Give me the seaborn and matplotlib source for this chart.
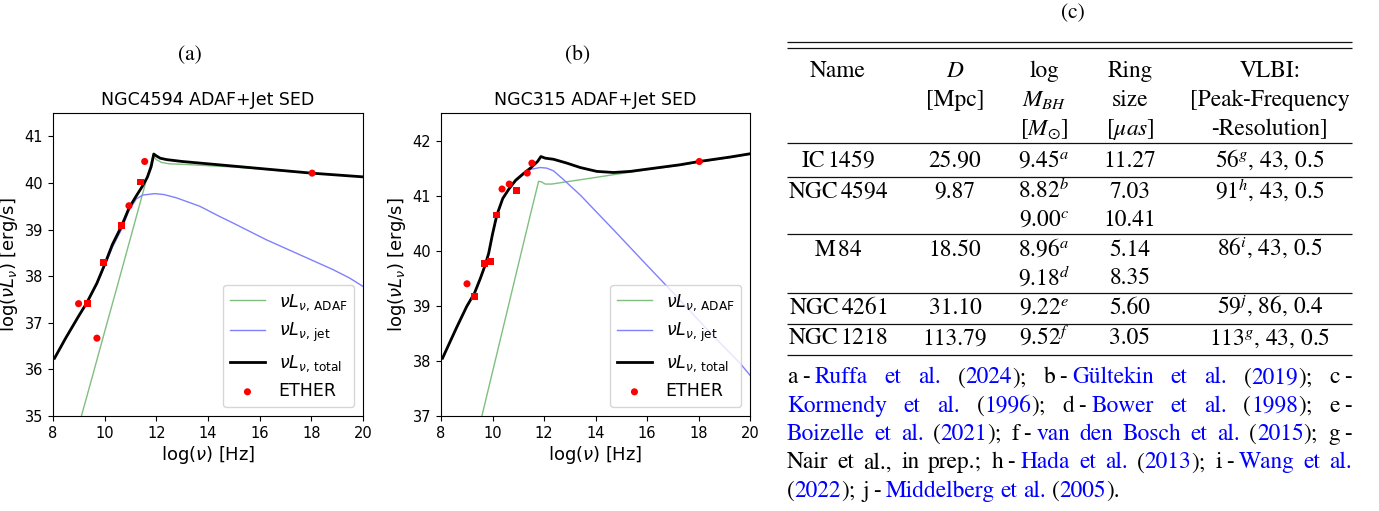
import matplotlib
matplotlib.use("Agg")
import matplotlib.pyplot as plt
import seaborn as sns
import pandas as pd

# ---------------- data: panel (a) NGC4594 ----------------
a_tot_nu = [8.06, 8.5, 9.0, 9.3, 9.7, 10.0, 10.3, 10.65, 10.95, 11.2, 11.45, 11.65, 11.8, 11.9, 12.0, 12.15, 12.4, 13.0, 14.0, 15.0, 16.0, 17.0, 18.0, 19.0, 20.0]
a_tot_L = [36.24, 36.68, 37.15, 37.42, 37.85, 38.25, 38.68, 39.07, 39.47, 39.70, 39.92, 40.12, 40.35, 40.62, 40.58, 40.53, 40.50, 40.46, 40.41, 40.36, 40.31, 40.26, 40.21, 40.17, 40.13]
a_adaf_nu = [9.0, 9.5, 10.0, 10.5, 11.0, 11.5, 11.87, 12.0, 12.2, 12.5, 13.0, 14.0, 15.0, 16.0, 17.0, 18.0, 19.0, 20.0]
a_adaf_L = [34.8, 35.8, 36.81, 37.81, 38.82, 39.83, 40.58, 40.50, 40.44, 40.41, 40.40, 40.37, 40.34, 40.30, 40.25, 40.21, 40.17, 40.13]
a_jet_nu = [8.06, 8.5, 9.0, 9.3, 9.7, 10.0, 10.3, 10.65, 10.95, 11.23, 11.48, 11.94, 12.3, 12.78, 13.68, 14.45, 14.97, 16.26, 17.55, 18.84, 19.48, 20.0]
a_jet_L = [36.23, 36.67, 37.14, 37.41, 37.83, 38.22, 38.62, 39.0, 39.42, 39.66, 39.74, 39.77, 39.75, 39.68, 39.5, 39.28, 39.14, 38.78, 38.46, 38.14, 37.96, 37.78]
a_ether_nu = [8.99, 9.70, 10.94, 11.55, 18.03]
a_ether_L = [37.41, 36.67, 39.51, 40.46, 40.21]
a_sq_nu = [9.32, 9.94, 10.65, 11.38]
a_sq_L = [37.42, 38.29, 39.08, 40.02]

# ---------------- data: panel (b) NGC315 ----------------
b_tot_nu = [8.06, 8.6, 9.0, 9.3, 9.53, 9.7, 9.85, 10.0, 10.17, 10.4, 10.65, 10.9, 11.2, 11.5, 11.75, 11.88, 12.05, 12.37, 12.89, 13.41, 14.05, 14.7, 15.35, 15.99, 17.28, 18.03, 19.22, 20.0]
b_tot_L = [38.05, 38.6, 38.99, 39.23, 39.5, 39.72, 39.95, 40.3, 40.65, 40.95, 41.13, 41.28, 41.4, 41.51, 41.62, 41.71, 41.68, 41.66, 41.59, 41.51, 41.44, 41.42, 41.44, 41.48, 41.56, 41.62, 41.70, 41.76]
b_adaf_nu = [9.5, 10.5, 11.0, 11.5, 11.79, 11.9, 12.05, 12.3, 13.0, 14.0, 14.7, 15.99, 17.28, 18.03, 19.22, 20.0]
b_adaf_L = [36.83, 38.77, 39.74, 40.71, 41.26, 41.25, 41.21, 41.21, 41.26, 41.33, 41.38, 41.47, 41.55, 41.61, 41.69, 41.75]
b_jet_nu = [8.06, 8.6, 9.0, 9.3, 9.53, 9.7, 9.85, 10.0, 10.17, 10.4, 10.65, 10.9, 11.2, 11.5, 11.85, 12.1, 12.37, 12.76, 13.41, 14.7, 15.99, 17.03, 18.58, 19.61, 20.0]
b_jet_L = [38.04, 38.59, 38.98, 39.22, 39.49, 39.71, 39.94, 40.29, 40.64, 40.94, 41.12, 41.26, 41.38, 41.48, 41.51, 41.5, 41.45, 41.29, 41.01, 40.38, 39.74, 39.23, 38.45, 37.96, 37.74]
b_ether_nu = [9.01, 10.37, 10.65, 11.35, 11.53, 18.03]
b_ether_L = [39.40, 41.12, 41.21, 41.41, 41.59, 41.62]
b_sq_nu = [9.31, 9.69, 9.91, 10.17, 10.94]
b_sq_L = [39.17, 39.77, 39.80, 40.65, 41.09]

x_ticks = [8, 10, 12, 14, 16, 18, 20]
a_yticks = [35, 36, 37, 38, 39, 40, 41]
b_yticks = [37, 38, 39, 40, 41, 42]

# ---------------- data: table (c) ----------------
TS = r"$\,$"  # thin space
MS = r"$\;$"  # medium space
hdr_name = ["Name", "", ""]
hdr_d = ["$D$", "[Mpc]", ""]
hdr_m = ["log", "$M_{BH}$", r"[$M_{\odot}$]"]
hdr_ring = ["Ring", "size", r"[$\mu as$]"]
hdr_vlbi = ["VLBI:", "[Peak-Frequency", "-Resolution]"]
col_name = ["IC" + TS + "1459", "NGC" + TS + "4594", "", "M" + TS + "84", "", "NGC" + TS + "4261", "NGC" + TS + "1218"]
col_d = ["25.90", "9.87", "", "18.50", "", "31.10", "113.79"]
col_m = ["9.45$^{a}$", "8.82$^{b}$", "9.00$^{c}$", "8.96$^{a}$", "9.18$^{d}$", "9.22$^{e}$", "9.52$^{f}$"]
col_ring = ["11.27", "7.03", "10.41", "5.14", "8.35", "5.60", "3.05"]
col_vlbi = ["56$^{g}$, 43, 0.5", "91$^{h}$, 43, 0.5", "", "86$^{i}$, 43, 0.5", "", "59$^{j}$, 86, 0.4", "113$^{g}$, 43, 0.5"]

K, B = "black", "#0000ff"
DS = MS + "-" + MS  # " - " with narrow spaces
foot_lines = [
    [[("a" + DS, K), ("Ruffa", B)], [("et", B)], [("al.", B)], [("(", K), ("2024", B), (");", K)],
     [("b" + DS, K), ("Gültekin", B)], [("et", B)], [("al.", B)], [("(", K), ("2019", B), (");", K)], [("c" + MS + "-", K)]],
    [[("Kormendy", B)], [("et", B)], [("al.", B)], [("(", K), ("1996", B), (");", K)],
     [("d" + DS, K), ("Bower", B)], [("et", B)], [("al.", B)], [("(", K), ("1998", B), (");", K)], [("e" + MS + "-", K)]],
    [[("Boizelle", B)], [("et", B)], [("al.", B)], [("(", K), ("2021", B), (");", K)],
     [("f" + DS, K), ("van", B)], [("den", B)], [("Bosch", B)], [("et", B)], [("al.", B)],
     [("(", K), ("2015", B), (");", K)], [("g" + MS + "-", K)]],
    [[("Nair", K)], [("et", K)], [("al.,", K)], [("in", K)], [("prep.;", K)],
     [("h" + DS, K), ("Hada", B)], [("et", B)], [("al.", B)], [("(", K), ("2013", B), (");", K)],
     [("i" + DS, K), ("Wang", B)], [("et", B)], [("al.", B)]],
    [[("(", K), ("2022", B), (");", K)], [("j" + DS, K), ("Middelberg", B)], [("et", B)], [("al.", B)],
     [("(", K), ("2005", B), (").", K)]],
]
foot_justify = [True, True, True, True, False]

# ---------------- figure ----------------
W, H = 1379, 511
fig = plt.figure(figsize=(W / 100, H / 100), dpi=100)


def add_ax(left, top, right, bottom):
    return fig.add_axes([left / W, 1 - bottom / H, (right - left) / W, (bottom - top) / H])


green = (0.5, 0.75, 0.5)
blue = (0.5, 0.5, 1.0)


def sed_panel(ax, title, adaf, jet, tot, ether, sq, ylim, yticks):
    sns.lineplot(x=adaf[0], y=adaf[1], ax=ax, color=green, lw=1.0,
                 label=r"$\nu L_{\nu,\,\mathrm{ADAF}}$", estimator=None, sort=False)
    sns.lineplot(x=jet[0], y=jet[1], ax=ax, color=blue, lw=1.0,
                 label=r"$\nu L_{\nu,\,\mathrm{jet}}$", estimator=None, sort=False)
    sns.lineplot(x=tot[0], y=tot[1], ax=ax, color="black", lw=2.0,
                 label=r"$\nu L_{\nu,\,\mathrm{total}}$", estimator=None, sort=False)
    sns.scatterplot(x=ether[0], y=ether[1], ax=ax, color="red", marker="o", s=26,
                    edgecolor="none", label="ETHER", zorder=5)
    sns.scatterplot(x=sq[0], y=sq[1], ax=ax, color="red", marker="s", s=24,
                    edgecolor="none", zorder=5)
    ax.set_xlim(8, 20)
    ax.set_ylim(*ylim)
    ax.set_xticks(x_ticks)
    ax.set_yticks(yticks)
    ax.tick_params(labelsize=10.5)
    ax.set_xlabel(r"log($\nu$) [Hz]", fontsize=13, labelpad=2)
    ax.set_ylabel(r"log($\nu L_{\nu}$) [erg/s]", fontsize=13, labelpad=3)
    ax.set_title(title, fontsize=12.5, pad=6)
    h, l = ax.get_legend_handles_labels()
    ax.legend(h[:4], l[:4], loc="lower right", fontsize=12.5, framealpha=0.8)


ax1 = add_ax(53, 113, 363, 416)
sed_panel(ax1, "NGC4594 ADAF+Jet SED", (a_adaf_nu, a_adaf_L), (a_jet_nu, a_jet_L),
          (a_tot_nu, a_tot_L), (a_ether_nu, a_ether_L), (a_sq_nu, a_sq_L), (35, 41.5), a_yticks)
ax2 = add_ax(441, 113, 750, 416)
sed_panel(ax2, "NGC315 ADAF+Jet SED", (b_adaf_nu, b_adaf_L), (b_jet_nu, b_jet_L),
          (b_tot_nu, b_tot_L), (b_ether_nu, b_ether_L), (b_sq_nu, b_sq_L), (37, 42.5), b_yticks)

# overlay axes in pixel coordinates for labels and table
axt = fig.add_axes([0, 0, 1, 1])
axt.set_xlim(0, W)
axt.set_ylim(H, 0)
axt.axis("off")
axt.patch.set_alpha(0)

SERIF = "STIXGeneral"
FS = 16.8
tkw = dict(family=SERIF, math_fontfamily="stix", fontsize=FS)
lkw = dict(family=SERIF, math_fontfamily="stix", fontsize=15.5)

axt.text(190, 55, "(a)", ha="center", va="center", **lkw)
axt.text(578, 55, "(b)", ha="center", va="center", **lkw)
axt.text(1073, 13, "(c)", ha="center", va="center", **lkw)

XL, XR = 787, 1352
for y in [42.3, 48.3, 143.3, 176.7, 234.3, 293.3, 324, 355]:
    axt.plot([XL, XR], [y, y], color="#111111", lw=0.9, solid_capstyle="butt")

col_x = [838, 955, 1044, 1130, 1270]
hdr_base = [76.7, 106.0, 135.0]
for cx, col in zip(col_x, [hdr_name, hdr_d, hdr_m, hdr_ring, hdr_vlbi]):
    for yb, s in zip(hdr_base, col):
        if s:
            axt.text(cx, yb, s, ha="center", va="baseline", **tkw)

row_base = [166.7, 197.7, 226.0, 255.7, 284.3, 314.0, 344.3]
for cx, col in zip(col_x, [col_name, col_d, col_m, col_ring, col_vlbi]):
    for yb, s in zip(row_base, col):
        if s:
            axt.text(cx, yb, s, ha="center", va="baseline", **tkw)

# footnotes with justified lines
renderer = fig.canvas.get_renderer()
_probe = axt.text(0, 0, "||", **tkw)
_w0 = _probe.get_window_extent(renderer).width


def adv(s):
    _probe.set_text("|" + s + "|")
    return _probe.get_window_extent(renderer).width - _w0


space_w = adv(" ")
foot_base = [383.3, 411.7, 440.0, 468.3, 496.8]
for yb, words, just in zip(foot_base, foot_lines, foot_justify):
    widths = [sum(adv(t) for t, _ in w) for w in words]
    if just:
        gap = (XR - XL - sum(widths)) / (len(words) - 1)
    else:
        gap = space_w
    x = XL
    for w, ww in zip(words, widths):
        xs = x
        for t, c in w:
            axt.text(xs, yb, t, ha="left", va="baseline", color=c, **tkw)
            xs += adv(t)
        x += ww + gap
_probe.remove()

fig.savefig("out.png", dpi=100)
